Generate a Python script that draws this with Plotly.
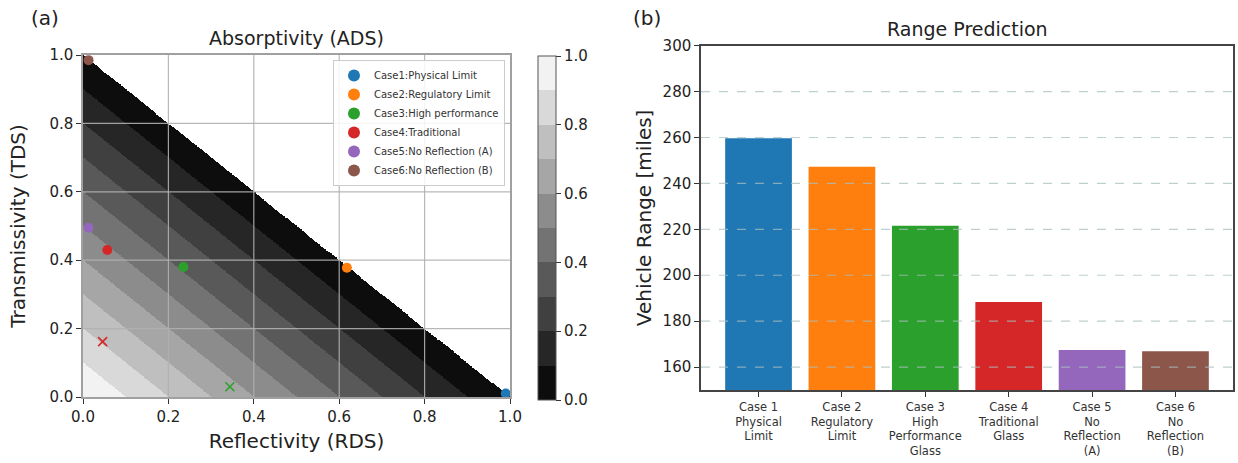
import numpy as np
import plotly.graph_objects as go

# ---------------- data ----------------
ADS_LEVELS = [0.0, 0.1, 0.2, 0.3, 0.4, 0.5, 0.6, 0.7, 0.8, 0.9, 1.0]
CASE_NAMES = ["Case1:Physical Limit", "Case2:Regulatory Limit", "Case3:High performance",
              "Case4:Traditional", "Case5:No Reflection (A)", "Case6:No Reflection (B)"]
CASE_RDS = [0.99, 0.618, 0.235, 0.057, 0.013, 0.013]
CASE_TDS = [0.01, 0.378, 0.380, 0.430, 0.495, 0.985]
CASE_COLORS = ["#1f77b4", "#ff7f0e", "#2ca02c", "#d62728", "#9467bd", "#8c564b"]
CROSS_RDS = [0.046, 0.344]
CROSS_TDS = [0.162, 0.030]
CROSS_COLORS = ["#d62728", "#2ca02c"]

BAR_LABELS = ["Case 1<br>Physical<br>Limit", "Case 2<br>Regulatory<br>Limit",
              "Case 3<br>High<br>Performance<br>Glass", "Case 4<br>Traditional<br>Glass",
              "Case 5<br>No<br>Reflection<br>(A)", "Case 6<br>No<br>Reflection<br>(B)"]
RANGE_MILES = [259.7, 247.3, 221.6, 188.3, 167.4, 166.9]

LEFT_TICKS = [0.0, 0.2, 0.4, 0.6, 0.8, 1.0]
RIGHT_TICKS = [160, 180, 200, 220, 240, 260, 280, 300]

FONT = "DejaVu Sans"
W, H = 1238, 463

# ---------------- ADS field: ADS = 1 - RDS - TDS ----------------
N = 500
edges = np.linspace(0, 1, N + 1)
centers = (edges[:-1] + edges[1:]) / 2
R, T = np.meshgrid(centers, centers)
A = 1.0 - R - T
A = np.where(A < 0, np.nan, np.round(A, 3))

# discrete gray colorscale (matplotlib 'gray', band midpoint colours)
cs = []
for i in range(len(ADS_LEVELS) - 1):
    g = int(round(255 * (ADS_LEVELS[i] + ADS_LEVELS[i + 1]) / 2))
    c = f"rgb({g},{g},{g})"
    cs.append([ADS_LEVELS[i], c])
    cs.append([ADS_LEVELS[i + 1], c])

fig = go.Figure()

# domains
LX = [83 / W, 510 / W]
LY = [1 - 397 / H, 1 - 55 / H]
RX = [701 / W, 1233 / W]
RY = [1 - 390 / H, 1 - 45.7 / H]

fig.add_trace(go.Heatmap(
    x=centers, y=centers, z=A, zmin=0, zmax=1, colorscale=cs, zsmooth=False,
    hoverinfo="skip", xaxis="x", yaxis="y",
    colorbar=dict(
        x=538 / W, xanchor="left", xpad=0, y=1 - 228 / H, yanchor="middle", ypad=0,
        thickness=18, thicknessmode="pixels", len=344 / H, lenmode="fraction",
        outlinecolor="#555", outlinewidth=1,
        tickvals=LEFT_TICKS, tickformat=".1f", ticks="outside", ticklen=5,
        tickcolor="#333", tickfont=dict(family=FONT, size=15, color="#222"),
    ),
))

for n, rx, ty, col in zip(CASE_NAMES, CASE_RDS, CASE_TDS, CASE_COLORS):
    fig.add_trace(go.Scatter(
        x=[rx], y=[ty], mode="markers", name=n, xaxis="x", yaxis="y",
        marker=dict(symbol="circle", size=10, color=col), cliponaxis=False,
    ))

for rx, ty, col in zip(CROSS_RDS, CROSS_TDS, CROSS_COLORS):
    fig.add_trace(go.Scatter(
        x=[rx], y=[ty], mode="markers", showlegend=False, xaxis="x", yaxis="y",
        marker=dict(symbol="x-thin-open", size=9, color=col,
                    line=dict(color=col, width=1.6)),
    ))

fig.add_trace(go.Bar(
    x=list(range(len(RANGE_MILES))), y=RANGE_MILES, width=0.8,
    marker=dict(color=CASE_COLORS, line=dict(width=0)), showlegend=False,
    xaxis="x2", yaxis="y2",
))

# grid lines drawn on top (as in the reference)
shapes = []
for v in LEFT_TICKS[1:-1]:
    shapes.append(dict(type="line", xref="x", yref="y domain", x0=v, x1=v, y0=0, y1=1,
                       line=dict(color="rgba(176,176,176,0.9)", width=1.2), layer="above"))
    shapes.append(dict(type="line", yref="y", xref="x domain", y0=v, y1=v, x0=0, x1=1,
                       line=dict(color="rgba(176,176,176,0.9)", width=1.2), layer="above"))
for v in RIGHT_TICKS[:-1]:
    shapes.append(dict(type="line", yref="y2", xref="x2 domain", y0=v, y1=v, x0=0, x1=1,
                       line=dict(color="rgba(170,190,190,0.75)", width=1.2, dash="dash"),
                       layer="above"))

tickfont = dict(family=FONT, size=15, color="#222")
labfont = dict(family=FONT, size=20, color="#222")

fig.update_layout(
    width=W, height=H, margin=dict(l=0, r=0, t=0, b=0, autoexpand=False),
    paper_bgcolor="white", plot_bgcolor="white",
    font=dict(family=FONT, color="#222"),
    shapes=shapes,
    xaxis=dict(domain=LX, range=[0, 1], tickvals=LEFT_TICKS, tickformat=".1f",
               ticks="outside", ticklen=5, tickcolor="#333", showgrid=False, zeroline=False,
               showline=True, linecolor="#a0a0a0", linewidth=1.5, mirror=True,
               tickfont=tickfont, anchor="y", automargin=False,
               title=dict(text="Reflectivity (RDS)", font=labfont, standoff=9)),
    yaxis=dict(domain=LY, range=[0, 1], tickvals=LEFT_TICKS, tickformat=".1f",
               ticks="outside", ticklen=5, tickcolor="#333", showgrid=False, zeroline=False,
               showline=True, linecolor="#a0a0a0", linewidth=1.5, mirror=True,
               tickfont=tickfont, anchor="x", automargin=False,
               title=dict(text="Transmissivity (TDS)", font=labfont, standoff=18)),
    xaxis2=dict(domain=RX, range=[-0.69, 5.69], tickvals=list(range(len(BAR_LABELS))),
                ticktext=BAR_LABELS, ticks="outside", ticklen=5, tickcolor="#333",
                showgrid=False, zeroline=False, showline=True, linecolor="#444",
                linewidth=1.5, mirror=True, anchor="y2", automargin=False,
                tickfont=dict(family=FONT, size=11.5, color="#333")),
    yaxis2=dict(domain=RY, range=[150, 300], tickvals=RIGHT_TICKS, ticks="outside",
                ticklen=5, tickcolor="#333", showgrid=False, zeroline=False, showline=True,
                linecolor="#444", linewidth=1.5, mirror=True, anchor="x2",
                tickfont=tickfont, automargin=False,
                title=dict(text="Vehicle Range [miles]", font=labfont, standoff=6)),
    legend=dict(x=505 / W, xanchor="right", y=1 - 60 / H, yanchor="top",
                bgcolor="rgba(255,255,255,0.85)", bordercolor="#cccccc", borderwidth=1,
                font=dict(family=FONT, size=10, color="#333"), tracegroupgap=0,
                itemsizing="constant", itemwidth=30),
    annotations=[
        dict(text="(a)", x=45 / W, y=1 - 18 / H, xref="paper", yref="paper",
             xanchor="center", yanchor="middle", showarrow=False,
             font=dict(family=FONT, size=20, color="#222")),
        dict(text="(b)", x=647 / W, y=1 - 18 / H, xref="paper", yref="paper",
             xanchor="center", yanchor="middle", showarrow=False,
             font=dict(family=FONT, size=20, color="#222")),
        dict(text="Absorptivity (ADS)", x=(LX[0] + LX[1]) / 2, y=1 - 38 / H,
             xref="paper", yref="paper", xanchor="center", yanchor="middle",
             showarrow=False, font=dict(family=FONT, size=19, color="#222")),
        dict(text="Range Prediction", x=(RX[0] + RX[1]) / 2, y=1 - 29 / H,
             xref="paper", yref="paper", xanchor="center", yanchor="middle",
             showarrow=False, font=dict(family=FONT, size=19, color="#222")),
    ],
)

fig.write_html("out.html")
